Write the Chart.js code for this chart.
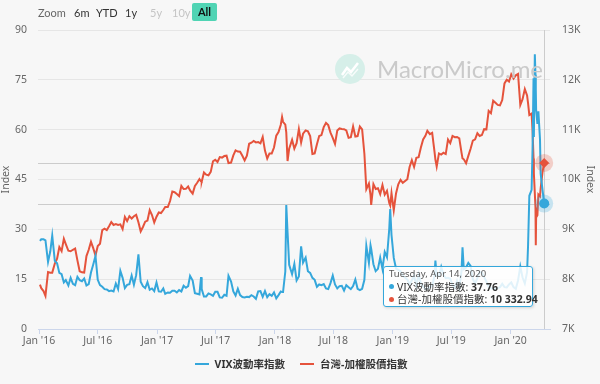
<!DOCTYPE html>
<html>
<head>
<meta charset="utf-8">
<script src="https://cdn.jsdelivr.net/npm/chart.js@4.4.1/dist/chart.umd.min.js"></script>
<style>
  html,body{margin:0;padding:0;background:#f7f7f7;}
  #wrap{position:relative;width:600px;height:384px;overflow:hidden;background:#f7f7f7;font-family:'Noto Sans','Noto Sans CJK TC',sans-serif;}
  canvas{position:absolute;left:0;top:0;}
  .zb{position:absolute;top:5px;font-size:11px;color:#333;line-height:15px;font-family:Lato,'Noto Sans',sans-serif;}
  #tip{position:absolute;width:148px;height:39px;background:rgba(255,255,255,0.85);border:1px solid #35a7db;border-radius:3px;box-shadow:1px 1px 3px rgba(0,0,0,0.15);font-size:10.5px;color:#333;line-height:12.5px;padding:0;}
  #tip div{white-space:nowrap;padding-left:5px;}
  .dot{display:inline-block;width:5px;height:5px;border-radius:3px;vertical-align:middle;margin-right:3px;position:relative;top:-1px;}
  #legend{position:absolute;top:356px;left:0;width:600px;height:16px;font-size:10.5px;font-weight:bold;color:#333;display:flex;justify-content:center;gap:15px;padding-left:2px;box-sizing:border-box;}
  .li{line-height:16px;white-space:nowrap;}
  .ls{display:inline-block;width:14px;height:2px;vertical-align:middle;margin-right:6px;position:relative;top:-1px;}
</style>
</head>
<body>
<div id="wrap">
  <canvas id="c" width="600" height="384"></canvas>
  <div class="zb" style="left:38px;color:#666;">Zoom</div>
  <div class="zb" style="left:74px;">6m</div>
  <div class="zb" style="left:96px;">YTD</div>
  <div class="zb" style="left:125px;">1y</div>
  <div class="zb" style="left:150px;color:#c4c4c4;">5y</div>
  <div class="zb" style="left:172px;color:#c4c4c4;">10y</div>
  <div class="zb" style="left:192px;top:3px;width:25px;height:18px;line-height:18px;text-align:center;background:#50d4b4;border-radius:2px;font-weight:bold;color:#111;">All</div>
  <div style="position:absolute;left:335px;top:54px;width:30px;height:30px;border-radius:15px;background:#d6efe9;"></div>
  <svg style="position:absolute;left:335px;top:54px;" width="30" height="30"><polyline points="7,21 12,14 16,18 23,9" fill="none" stroke="#fff" stroke-width="2.5"/><polyline points="8,24 13,18 17,22 23,15" fill="none" stroke="#fff" stroke-width="1.5" opacity="0.8"/></svg>
  <div style="position:absolute;left:377px;top:54px;font-size:24px;color:#cacaca;font-family:Lato,'Open Sans',sans-serif;">MacroMicro.me</div>
  <div id="tip"></div>
  <div id="legend">
    <div class="li"><span class="ls" style="background:#35a7db;"></span>VIX波動率指數</div>
    <div class="li"><span class="ls" style="background:#e5533c;"></span>台灣-加權股價指數</div>
  </div>
</div>
<script>
const dates = [
'2016-01-04','2016-01-08','2016-01-15','2016-01-21','2016-01-29','2016-02-05','2016-02-11','2016-02-19','2016-02-26','2016-03-04','2016-03-11','2016-03-18','2016-03-24','2016-04-01','2016-04-08','2016-04-15','2016-04-22','2016-04-29','2016-05-06','2016-05-13','2016-05-20','2016-05-27','2016-06-03','2016-06-10','2016-06-17','2016-06-24','2016-07-01','2016-07-08','2016-07-15','2016-07-22','2016-07-29','2016-08-05','2016-08-12','2016-08-19','2016-08-26','2016-09-02','2016-09-09','2016-09-16','2016-09-23','2016-09-30','2016-10-07','2016-10-14','2016-10-21','2016-10-28','2016-11-04','2016-11-11','2016-11-18','2016-11-25','2016-12-02','2016-12-09','2016-12-16','2016-12-23','2016-12-30',
'2017-01-06','2017-01-13','2017-01-20','2017-01-26','2017-02-03','2017-02-10','2017-02-17','2017-02-24','2017-03-03','2017-03-10','2017-03-17','2017-03-24','2017-03-31','2017-04-07','2017-04-13','2017-04-21','2017-04-28','2017-05-05','2017-05-12','2017-05-17','2017-05-19','2017-05-26','2017-06-02','2017-06-09','2017-06-16','2017-06-23','2017-06-30','2017-07-07','2017-07-14','2017-07-21','2017-07-28','2017-08-04','2017-08-10','2017-08-18','2017-08-25','2017-09-01','2017-09-08','2017-09-15','2017-09-22','2017-09-29','2017-10-06','2017-10-13','2017-10-20','2017-10-27','2017-11-03','2017-11-10','2017-11-17','2017-11-24','2017-12-01','2017-12-08','2017-12-15','2017-12-22','2017-12-29',
'2018-01-05','2018-01-12','2018-01-19','2018-01-23','2018-01-26','2018-02-02','2018-02-05','2018-02-09','2018-02-14','2018-02-23','2018-03-02','2018-03-09','2018-03-16','2018-03-23','2018-03-29','2018-04-06','2018-04-13','2018-04-20','2018-04-27','2018-05-04','2018-05-11','2018-05-18','2018-05-25','2018-06-01','2018-06-08','2018-06-15','2018-06-22','2018-06-29','2018-07-06','2018-07-13','2018-07-20','2018-07-27','2018-08-03','2018-08-10','2018-08-17','2018-08-24','2018-08-31','2018-09-07','2018-09-14','2018-09-21','2018-09-28','2018-10-05','2018-10-11','2018-10-19','2018-10-24','2018-10-26','2018-11-02','2018-11-09','2018-11-16','2018-11-23','2018-11-30','2018-12-07','2018-12-14','2018-12-21','2018-12-24','2018-12-28',
'2019-01-04','2019-01-11','2019-01-18','2019-01-25','2019-02-01','2019-02-15','2019-02-22','2019-03-01','2019-03-08','2019-03-15','2019-03-22','2019-03-29','2019-04-05','2019-04-12','2019-04-18','2019-04-26','2019-05-03','2019-05-10','2019-05-13','2019-05-17','2019-05-24','2019-05-31','2019-06-07','2019-06-14','2019-06-21','2019-06-28','2019-07-05','2019-07-12','2019-07-19','2019-07-26','2019-08-02','2019-08-05','2019-08-09','2019-08-16','2019-08-23','2019-08-30','2019-09-06','2019-09-13','2019-09-20','2019-09-27','2019-10-04','2019-10-11','2019-10-18','2019-10-25','2019-11-01','2019-11-08','2019-11-15','2019-11-22','2019-11-29','2019-12-06','2019-12-13','2019-12-20','2019-12-27',
'2020-01-03','2020-01-10','2020-01-17','2020-01-24','2020-01-31','2020-02-07','2020-02-14','2020-02-21','2020-02-24','2020-02-28','2020-03-06','2020-03-09','2020-03-12','2020-03-13','2020-03-16','2020-03-18','2020-03-19','2020-03-20','2020-03-24','2020-03-27','2020-04-01','2020-04-03','2020-04-09','2020-04-14'
];
const vix = [
26.5,27.0,27.0,26.7,20.2,23.4,28.1,20.5,19.8,16.9,16.5,14.0,14.7,13.1,15.4,13.6,13.2,15.7,14.7,14.4,15.2,13.1,13.5,17.0,19.4,22.0,14.8,13.2,12.7,12.0,11.9,11.4,11.6,11.3,13.7,12.0,17.5,15.4,12.3,13.3,13.5,16.1,13.3,16.2,22.5,14.2,12.9,12.3,14.1,11.8,12.2,11.4,14.0,
11.3,11.2,12.2,10.6,11.0,10.9,11.5,11.5,11.0,11.7,11.3,13.0,12.4,12.9,16.0,14.6,10.8,10.6,10.4,15.6,12.0,9.8,9.8,10.7,10.4,10.0,11.2,11.2,9.5,9.4,10.3,10.0,16.0,14.3,11.3,10.1,12.1,10.2,9.6,9.5,9.7,9.6,10.2,9.8,9.1,11.3,11.4,9.7,11.4,9.6,10.5,10.0,11.0,
9.2,10.2,11.3,11.1,11.1,17.3,37.3,29.1,19.3,16.5,19.6,14.6,15.8,24.9,20.0,21.5,17.4,16.9,15.4,14.8,12.7,13.4,13.2,13.5,12.2,12.0,13.8,16.1,13.4,12.2,12.9,13.0,11.6,13.2,12.6,12.0,12.9,14.9,12.1,11.7,12.1,14.8,25.0,19.9,25.2,24.2,19.5,17.4,18.1,21.5,18.1,23.2,21.6,30.1,36.1,28.3,
21.4,18.2,17.8,17.4,16.1,14.9,13.5,14.6,16.1,12.9,16.5,13.7,12.8,12.0,12.1,12.7,12.9,16.0,20.6,16.0,15.9,18.7,16.3,15.3,15.4,15.1,13.3,12.4,14.5,12.2,17.6,24.6,18.0,18.5,19.9,19.0,15.0,13.7,15.3,17.2,17.0,15.6,14.3,12.7,12.3,12.1,12.1,12.3,12.6,13.6,12.6,12.5,13.4,
14.0,12.6,12.1,14.6,18.8,15.5,13.7,17.1,25.0,40.1,41.9,54.5,75.5,57.8,82.7,76.5,72.0,66.0,61.7,65.5,57.1,46.8,41.7,37.76
];
const taiex = [
7890,7820,7762,7664,8145,8131,8131,8314,8411,8643,8564,8810,8705,8570,8560,8590,8616,8377,8160,8138,8132,8463,8590,8750,8622,8476,8665,8710,8985,9012,8984,9060,9145,9088,9104,9087,9099,9004,9249,9166,9264,9217,9263,9290,9143,8960,9047,9153,9177,9386,9288,9137,9253,
9339,9327,9388,9447,9447,9567,9760,9745,9707,9665,9871,9808,9812,9860,9780,9717,9872,9935,10009,9960,9956,10140,10096,10085,10153,10366,10395,10352,10450,10440,10470,10477,10329,10339,10484,10586,10560,10556,10475,10384,10480,10717,10738,10773,10745,10750,10726,10854,10581,10422,10524,10524,10642,
10879,10951,11100,11253,11158,11102,10946,10370,10620,10796,10620,10730,11011,10744,10919,10985,10968,10870,10513,10525,10708,10874,10891,11051,11134,11091,10940,10837,10715,10983,11024,11013,11010,10984,10836,10849,11063,10862,10871,11062,11006,10517,9806,9919,9693,9489,9907,9810,9825,9707,9888,9696,9774,9527,9478,9727,
9382,9720,9904,9993,9932,10004,10250,10389,10251,10434,10446,10641,10804,10877,10977,10910,10935,10571,10400,10260,10523,10500,10536,10511,10803,10731,10875,10849,10853,10824,10533,10424,10405,10327,10474,10618,10781,10806,10929,10873,10893,11010,11004,11377,11331,11580,11538,11497,11489,11594,11927,12000,11964,
12110,12024,12090,12118,11495,11612,11815,11686,11534,11292,11322,10977,10422,10128,9717,9439,8681,9235,9285,9698,9663,9818,10157,10332.94
];
const xTickDates = ['2016-01-01','2016-07-01','2017-01-01','2017-07-01','2018-01-01','2018-07-01','2019-01-01','2019-07-01','2020-01-01'];
const xTickLabels = ["Jan '16","Jul '16","Jan '17","Jul '17","Jan '18","Jul '18","Jan '19","Jul '19","Jan '20"];
const seriesNames = ['VIX波動率指數','台灣-加權股價指數'];
const BLUE = '#35a7db', RED = '#e5533c';

const ts = s => new Date(s + 'T00:00:00Z').getTime();
const DAY = 86400000;
const xTicks = xTickDates.map(ts);
const FONT = "'Noto Sans','Noto Sans CJK TC',sans-serif";

const overlay = {
  id: 'overlay',
  beforeDatasetsDraw(chart) {
    const ctx = chart.ctx, a = chart.chartArea;
    const m0 = chart.getDatasetMeta(0), m1 = chart.getDatasetMeta(1);
    const p0 = m0.data[m0.data.length - 1], p1 = m1.data[m1.data.length - 1];
    ctx.save();
    ctx.strokeStyle = '#cccccc';
    ctx.lineWidth = 1;
    ctx.beginPath();
    ctx.moveTo(a.left, Math.round(p0.y) + 0.5); ctx.lineTo(a.right, Math.round(p0.y) + 0.5);
    ctx.moveTo(a.left, Math.round(p1.y) + 0.5); ctx.lineTo(a.right, Math.round(p1.y) + 0.5);
    ctx.moveTo(Math.round(p0.x) + 0.5, a.top); ctx.lineTo(Math.round(p0.x) + 0.5, a.bottom);
    ctx.stroke();
    ctx.restore();
  },
  afterDatasetsDraw(chart) {
    const ctx = chart.ctx;
    const m0 = chart.getDatasetMeta(0), m1 = chart.getDatasetMeta(1);
    const p0 = m0.data[m0.data.length - 1], p1 = m1.data[m1.data.length - 1];
    ctx.save();
    ctx.fillStyle = 'rgba(53,167,219,0.25)';
    ctx.beginPath(); ctx.arc(p0.x, p0.y, 9, 0, Math.PI * 2); ctx.fill();
    ctx.fillStyle = 'rgba(229,83,60,0.25)';
    ctx.beginPath(); ctx.arc(p1.x, p1.y, 9, 0, Math.PI * 2); ctx.fill();
    ctx.fillStyle = BLUE;
    ctx.beginPath(); ctx.arc(p0.x, p0.y, 5, 0, Math.PI * 2); ctx.fill();
    ctx.fillStyle = RED;
    ctx.beginPath();
    ctx.moveTo(p1.x, p1.y - 5); ctx.lineTo(p1.x + 5, p1.y); ctx.lineTo(p1.x, p1.y + 5); ctx.lineTo(p1.x - 5, p1.y); ctx.closePath();
    ctx.fill();
    ctx.restore();
    const tip = document.getElementById('tip');
    const last = dates.length - 1;
    const d = new Date(ts(dates[last]));
    const wd = ['Sunday','Monday','Tuesday','Wednesday','Thursday','Friday','Saturday'][d.getUTCDay()];
    const mo = ['Jan','Feb','Mar','Apr','May','Jun','Jul','Aug','Sep','Oct','Nov','Dec'][d.getUTCMonth()];
    const fmt = v => { const s = v.toFixed(2).split('.'); return s[0].replace(/\B(?=(\d{3})+(?!\d))/g, ' ') + '.' + s[1]; };
    tip.innerHTML =
      '<div style="font-size:9.5px;color:#555;margin-top:1px;">' + wd + ', ' + mo + ' ' + d.getUTCDate() + ', ' + d.getUTCFullYear() + '</div>' +
      '<div><span class="dot" style="background:' + BLUE + '"></span>' + seriesNames[0] + ': <b>' + fmt(vix[last]) + '</b></div>' +
      '<div><span class="dot" style="background:' + RED + '"></span>' + seriesNames[1] + ': <b>' + fmt(taiex[last]) + '</b></div>';
    tip.style.left = Math.round(p0.x - 161) + 'px';
    tip.style.top = Math.round(chart.chartArea.bottom - 63) + 'px';
  }
};

new Chart(document.getElementById('c'), {
  type: 'line',
  data: {
    datasets: [
      { label: seriesNames[0], data: dates.map((s, i) => ({ x: ts(s), y: vix[i] })), yAxisID: 'yL',
        borderColor: BLUE, borderWidth: 2, pointRadius: 0, tension: 0 },
      { label: seriesNames[1], data: dates.map((s, i) => ({ x: ts(s), y: taiex[i] })), yAxisID: 'yR',
        borderColor: RED, borderWidth: 2, pointRadius: 0, tension: 0 }
    ]
  },
  options: {
    responsive: false,
    animation: false,
    devicePixelRatio: 1,
    layout: { padding: { top: 30, left: 0, right: 0, bottom: 0 } },
    plugins: { legend: { display: false }, tooltip: { enabled: false } },
    events: [],
    scales: {
      x: {
        type: 'linear',
        min: ts('2016-01-01') - 3.1 * DAY,
        max: ts('2016-01-01') + 1583 * DAY,
        afterBuildTicks: s => { s.ticks = xTicks.map(v => ({ value: v })); },
        afterFit: s => { s.height = 55; },
        ticks: {
          autoSkip: false, maxRotation: 0, padding: 1,
          color: '#666', font: { family: FONT, size: 10.5 },
          callback: (v, i) => xTickLabels[i]
        },
        grid: { drawOnChartArea: false, drawTicks: true, tickLength: 5, tickColor: '#ccd6eb' },
        border: { display: true, color: '#ccd6eb' }
      },
      yL: {
        position: 'left', min: 0, max: 90,
        afterBuildTicks: s => { s.ticks = [0,15,30,45,60,75,90].map(v => ({ value: v })); },
        afterFit: s => { s.width = 38; },
        ticks: { padding: 11, color: '#666', font: { family: FONT, size: 10.5 } },
        grid: { color: '#e6e6e6', drawTicks: false },
        border: { display: false },
        title: { display: true, text: 'Index', color: '#666', font: { family: FONT, size: 10.5 }, padding: { top: 0, bottom: 0 } }
      },
      yR: {
        position: 'right', min: 7000, max: 13000,
        afterBuildTicks: s => { s.ticks = [7000,8000,9000,10000,11000,12000,13000].map(v => ({ value: v })); },
        afterFit: s => { s.width = 50; },
        ticks: { padding: 12, color: '#666', font: { family: FONT, size: 10.5 }, callback: v => (v / 1000) + 'K' },
        grid: { drawOnChartArea: false, drawTicks: false },
        border: { display: false },
        title: { display: true, text: 'Index', color: '#666', font: { family: FONT, size: 10.5 }, padding: { top: 4, bottom: 0 } }
      }
    }
  },
  plugins: [overlay]
});
</script>
</body>
</html>
